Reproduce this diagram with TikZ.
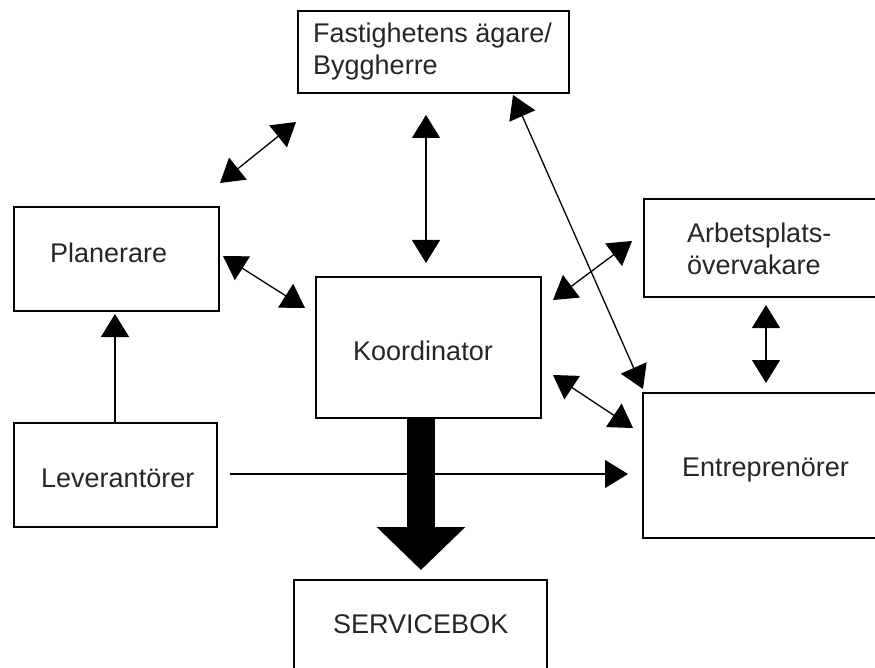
\documentclass[tikz,border=0pt]{standalone}
\usepackage{fontspec}
\setmainfont{Liberation Sans}
\usetikzlibrary{arrows.meta}
\tikzset{
  box/.style={draw=black, line width=1.4pt, rectangle, inner sep=0pt, outer sep=0pt},
  lbl/.style={anchor=base west, inner sep=0pt, font=\fontsize{27}{32}\selectfont, text=black!85},
  conn/.style={draw=black, line width=1.3pt},
  dbl/.style={conn, {Triangle[length=23pt,width=28pt]}-{Triangle[length=23pt,width=28pt]}},
  sgl/.style={conn, -{Triangle[length=23pt,width=28pt]}},
  bigarrow/.style={draw=black, line width=28pt, -{Triangle[length=43pt,width=86pt]}}
}
\begin{document}
\begin{tikzpicture}[x=1pt,y=-1pt]
\clip (0,0) rectangle (875,668);
\fill[white] (0,0) rectangle (875,668);
% boxes
\node[box, minimum width=271pt, minimum height=82pt] (own) at (433.5,52) {};
\node[box, minimum width=205pt, minimum height=104pt] (plan) at (116.5,259) {};
\node[box, minimum width=203pt, minimum height=104pt] (lev) at (115.5,475) {};
\node[box, minimum width=225pt, minimum height=141pt] (koord) at (428.5,347.5) {};
\node[box, minimum width=256pt, minimum height=98pt] (arb) at (772,248) {};
\node[box, minimum width=257pt, minimum height=145pt] (entr) at (771.5,465.5) {};
\node[box, minimum width=253pt, minimum height=120pt] (serv) at (420.5,640) {};
% labels
\node[lbl] (ownA) at (313,43) {Fastighetens ägare/};
\node[lbl] (ownB) at (313,75) {Byggherre};
\node[lbl] (planT) at (50,262) {Planerare};
\node[lbl] (levT) at (41,487) {Leverantörer};
\node[lbl] (koordT) at (353,360) {Koordinator};
\node[lbl] (arbA) at (687,243) {Arbetsplats-};
\node[lbl] (arbB) at (687,275) {övervakare};
\node[lbl] (entrT) at (682,476) {Entreprenörer};
\node[lbl] (servT) at (333,633) {SERVICEBOK};
% connector end points (arrows stop short of the boxes)
\coordinate (c1a) at (220,183); \coordinate (c1b) at (296,122);
\coordinate (c2a) at (426,115); \coordinate (c2b) at (426,263);
\coordinate (c3a) at (513,95);  \coordinate (c3b) at (643,389);
\coordinate (c4a) at (223,256); \coordinate (c4b) at (305,308);
\coordinate (c5a) at (553,300); \coordinate (c5b) at (632,241);
\coordinate (c6a) at (553,375); \coordinate (c6b) at (633,428);
\coordinate (c7a) at (766,305); \coordinate (c7b) at (766,383);
\coordinate (l1a) at (115,423); \coordinate (l1b) at (115,314);
\coordinate (l2a) at (230,474); \coordinate (l2b) at (628,474);
\coordinate (b1a) at (421,418); \coordinate (b1b) at (421,570);
% connectors
\draw[dbl] (c1a) -- (c1b);
\draw[dbl] (c2a) -- (c2b);
\draw[dbl] (c3a) -- (c3b);
\draw[dbl] (c4a) -- (c4b);
\draw[dbl] (c5a) -- (c5b);
\draw[dbl] (c6a) -- (c6b);
\draw[dbl] (c7a) -- (c7b);
\draw[sgl] (l1a) -- (l1b);
\draw[sgl] (l2a) -- (l2b);
\draw[bigarrow] (b1a) -- (b1b);
\end{tikzpicture}
\end{document}
